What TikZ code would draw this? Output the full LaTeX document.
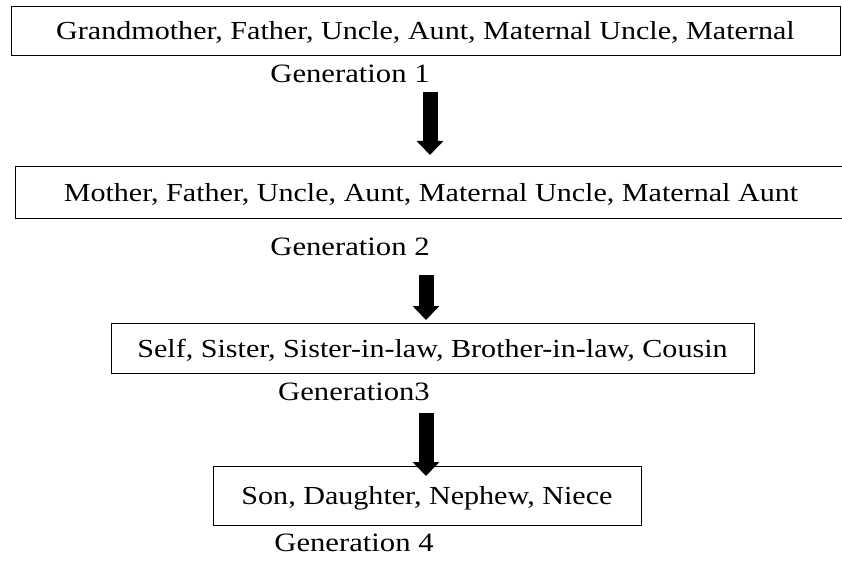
\documentclass[tikz,border=0pt]{standalone}
\usepackage{fontspec}
\setmainfont{Liberation Serif}[FakeStretch=1.157]
\usepackage{tikz}
\usetikzlibrary{arrows.meta, positioning, calc}

\begin{document}
\begin{tikzpicture}[x=1pt, y=-1pt,
    genbox/.style={rectangle, draw, line width=0.8pt, inner sep=0pt,
                   text centered, text depth=0pt, font=\fontsize{26}{30}\selectfont},
    genlabel/.style={inner sep=0pt, font=\fontsize{26.5}{30}\selectfont},
    arrow/.style={line width=15pt, -{Triangle[width=26pt, length=14pt]}}]

\useasboundingbox (0,0) rectangle (842,561);

\node (gen1)   [genbox, minimum width=829pt, minimum height=49pt] at (425.5,30.5)
    {Grandmother, Father, Uncle, Aunt, Maternal Uncle, Maternal};
\node (label1) [genlabel] at (350,74)  {Generation 1};
\node (gen2)   [genbox, minimum width=832pt, minimum height=52pt] at (431,192)
    {Mother, Father, Uncle, Aunt, Maternal Uncle, Maternal Aunt};
\node (label2) [genlabel] at (350,247) {Generation 2};
\node (gen3)   [genbox, minimum width=643pt, minimum height=50pt] at (432.5,348)
    {Self, Sister, Sister-in-law, Brother-in-law, Cousin};
\node (label3) [genlabel] at (354,392) {Generation3};
\node (gen4)   [genbox, minimum width=428pt, minimum height=59pt] at (427,495.5)
    {Son, Daughter, Nephew, Niece};
\node (label4) [genlabel] at (354,543) {Generation 4};

% arrow ends
\coordinate (tail1) at (430,92);
\coordinate (tip1)  at (430,155);
\coordinate (tail2) at (426,275);
\coordinate (tip2)  at (426,320);
\coordinate (tail3) at (426,413);
\coordinate (tip3)  at (426,476);

\draw [arrow] (tail1) -- (tip1);
\draw [arrow] (tail2) -- (tip2);
\draw [arrow] (tail3) -- (tip3);
\end{tikzpicture}
\end{document}
